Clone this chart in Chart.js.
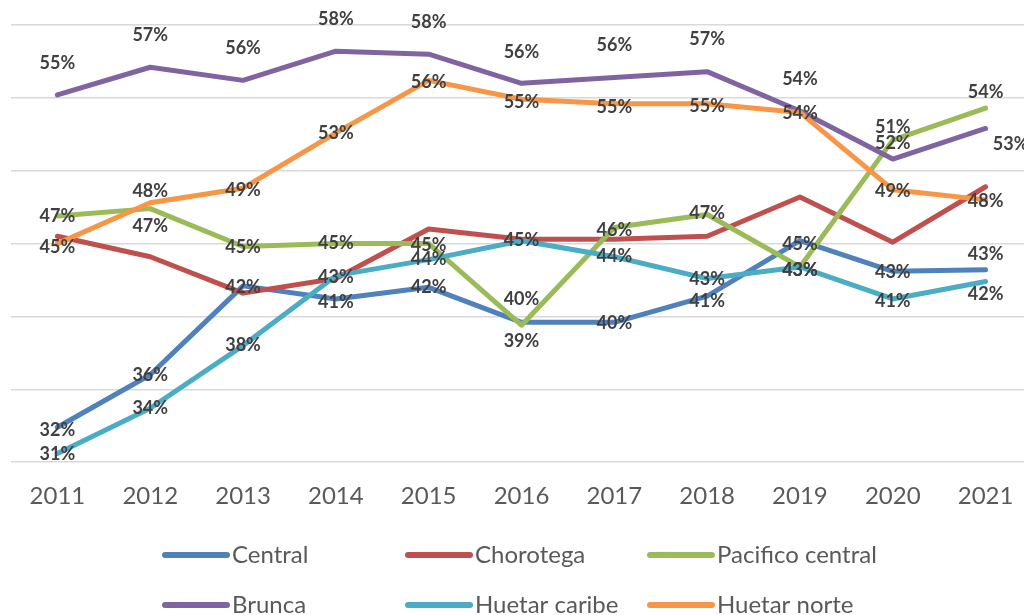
<!DOCTYPE html>
<html>
<head>
<meta charset="utf-8">
<script src="https://cdn.jsdelivr.net/npm/chart.js@4.4.1/dist/chart.umd.min.js"></script>
<style>
  html, body { margin: 0; padding: 0; background: #fff; overflow: hidden; }
  #wrap { width: 1040px; height: 615px; position: relative; }
</style>
</head>
<body>
<div id="wrap"><canvas id="myLineChart"></canvas></div>
<script>
const years = ['2011', '2012', '2013', '2014', '2015', '2016', '2017', '2018', '2019', '2020', '2021'];

const central = [32.4, 36.0, 42.1, 41.2, 42.0, 39.6, 39.6, 41.4, 45.2, 43.1, 43.2];
const chorotega = [45.5, 44.1, 41.6, 42.6, 46.0, 45.3, 45.3, 45.5, 48.2, 45.1, 48.9];
const pacificoCentral = [46.9, 47.4, 44.8, 45.0, 45.0, 39.4, 46.1, 47.0, 43.4, 52.1, 54.3];
const brunca = [55.2, 57.1, 56.2, 58.2, 58.0, 56.0, 56.4, 56.8, 54.1, 50.8, 52.9];
const huetarCaribe = [30.6, 33.7, 38.0, 42.8, 43.9, 45.2, 44.1, 42.6, 43.4, 41.2, 42.4];
const huetarNorte = [45.0, 47.8, 48.8, 52.6, 56.2, 54.9, 54.6, 54.6, 54.0, 48.7, 48.0];

// label nudges in px (Excel placed some labels above/below the point)
const labelDy = {
  'Central':          [3, 0, 1, 3, 0, -23, 1, 5, 4, 1, -16],
  'Pacifico central': [0, 18, 1, 0, 2, 16, 3, -1, 3, 3, -16],
  'Brunca':           [-32, -32, -32, -32, -32, -31, -32, -32, -32, -32, 16],
  'Huetar caribe':    [1, 0, 0, 2, 0, 0, -1, 1, 3, 2, 13],
  'Huetar norte':     [4, -12, 2, 0, 2, 3, 3, 2, 1, 2, 1]
};
const labelDx = { 'Brunca': [0, 0, 0, 0, 0, 0, 0, 0, 0, 0, 25] };

const series = [
  { label: 'Central', data: central, color: '#4f81bd' },
  { label: 'Chorotega', data: chorotega, color: '#c0504d' },
  { label: 'Pacifico central', data: pacificoCentral, color: '#9bbb59' },
  { label: 'Brunca', data: brunca, color: '#8064a2' },
  { label: 'Huetar caribe', data: huetarCaribe, color: '#4bacc6' },
  { label: 'Huetar norte', data: huetarNorte, color: '#f79646' }
];

const valueLabels = {
  id: 'valueLabels',
  afterDatasetsDraw(chart) {
    const c = chart.ctx;
    c.save();
    c.font = 'bold 18px Lato';
    c.fillStyle = '#404040';
    c.textAlign = 'center';
    c.textBaseline = 'middle';
    chart.data.datasets.forEach((ds, i) => {
      const dy = labelDy[ds.label];
      if (!dy) return; // Chorotega has no labels
      const dx = labelDx[ds.label] || [];
      chart.getDatasetMeta(i).data.forEach((pt, j) => {
        c.fillText(Math.round(ds.data[j]) + '%', pt.x + (dx[j] || 0), pt.y + dy[j]);
      });
    });
    c.restore();
  }
};

const gridLegend = {
  id: 'gridLegend',
  afterDraw(chart) {
    const c = chart.ctx;
    const cols = [165, 408, 650];
    const rows = [555, 605];
    c.save();
    c.font = '24px Lato';
    c.textBaseline = 'middle';
    c.lineCap = 'round';
    c.lineWidth = 6;
    chart.data.datasets.forEach((ds, i) => {
      const x = cols[i % 3];
      const y = rows[Math.floor(i / 3)];
      c.strokeStyle = ds.borderColor;
      c.beginPath();
      c.moveTo(x, y);
      c.lineTo(x + 62, y);
      c.stroke();
      c.fillStyle = '#595959';
      c.fillText(ds.label, x + 67, y);
    });
    c.restore();
  }
};

const ctx = document.getElementById('myLineChart').getContext('2d');

const data = {
  labels: years,
  datasets: series.map((s, i) => ({
    label: s.label,
    data: s.data,
    borderColor: s.color,
    backgroundColor: s.color,
    borderWidth: 5,
    borderCapStyle: 'round',
    borderJoinStyle: 'round',
    pointRadius: 0,
    tension: 0,
    order: series.length - i
  }))
};

const config = {
  type: 'line',
  data: data,
  options: {
    responsive: true,
    maintainAspectRatio: false,
    animation: false,
    layout: {
      padding: { top: 25, left: 11, right: 8, bottom: 84 }
    },
    plugins: {
      legend: { display: false },
      title: { display: false },
      tooltip: { enabled: false }
    },
    scales: {
      x: {
        offset: true,
        grid: { display: false, drawTicks: false },
        border: { display: false },
        ticks: {
          padding: 20,
          color: '#595959',
          font: { family: 'Lato', size: 24 }
        }
      },
      y: {
        min: 30,
        max: 60,
        ticks: { display: false, stepSize: 5 },
        border: { display: false },
        grid: { color: '#d9d9d9', lineWidth: 1.5, drawTicks: false }
      }
    }
  },
  plugins: [valueLabels, gridLegend]
};

const myLineChart = new Chart(ctx, config);
</script>
</body>
</html>
